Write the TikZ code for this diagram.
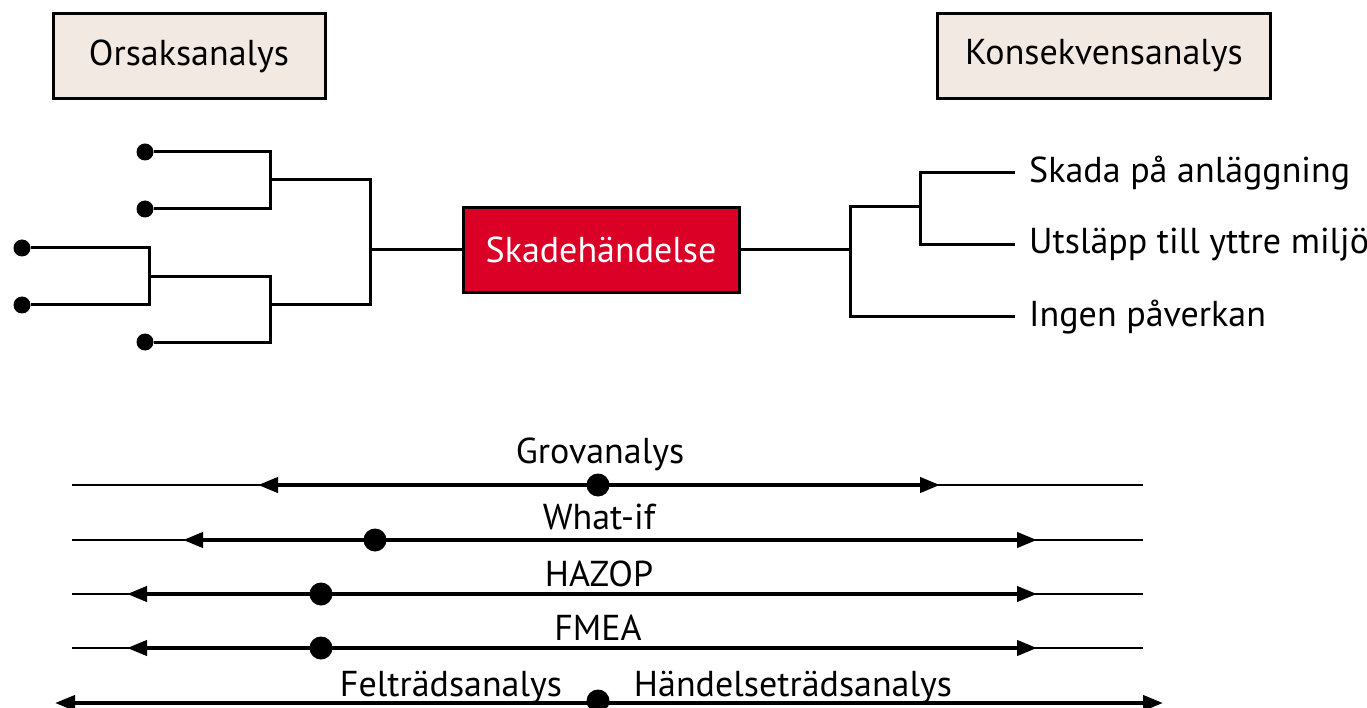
\documentclass[tikz,border=0pt]{standalone}
\usepackage{fontspec}
\setmainfont{PT Sans}
\usetikzlibrary{arrows.meta,positioning}
\definecolor{boxbeige}{HTML}{F2E9E3}
\definecolor{eventred}{HTML}{DA0026}

\begin{document}
\begin{tikzpicture}[
    x=1pt, y=-1pt,
    every node/.style={font=\fontsize{36}{42}\selectfont},
    headbox/.style={draw, line width=3pt, fill=boxbeige, minimum height=85pt, inner sep=0pt},
    eventbox/.style={draw, line width=3pt, fill=eventred, text=white, minimum width=276pt, minimum height=85pt},
    branch/.style={line width=3pt},
    cause/.style={circle, fill=black, inner sep=0pt, minimum size=17pt},
    leaf/.style={anchor=west, inner xsep=14pt, inner ysep=0pt},
    scaleline/.style={line width=1.5pt},
    span/.style={line width=4pt, {Triangle[length=20pt,width=15pt]}-{Triangle[length=20pt,width=15pt]}},
    marker/.style={circle, fill=black, inner sep=0pt, minimum size=23pt},
    method/.style={anchor=base}
]
\useasboundingbox (0,0) rectangle (1367,708);

% headings
\node[headbox, minimum width=272pt] (cause) at (189,56) {Orsaksanalys};
\node[headbox, minimum width=333pt] (conseq) at (1104,56) {Konsekvensanalys};

% the event
\node[eventbox] (event) at (601,250) {Skadehändelse};

% fault side
\node[cause] (c1) at (145,152) {};
\node[cause] (c2) at (145,209) {};
\node[cause] (c3) at (22,248) {};
\node[cause] (c4) at (22,305) {};
\node[cause] (c5) at (145,342) {};
\coordinate (j1) at (270,180);
\coordinate (j2) at (149,277);
\coordinate (j3) at (270,305);
\coordinate (j4) at (370,305);
\draw[branch] (c1) -| (j1) |- (c2);
\draw[branch] (c3) -| (j2) |- (c4);
\draw[branch] (j2) -| (j3) |- (c5);
\draw[branch] (j1) -| (j4) -- (j3);
\draw[branch] (event.west) -- (event.west -| j4);

% consequence side
\node[leaf] (l1) at (1015,173) {Skada på anläggning};
\node[leaf] (l2) at (1015,245) {Utsläpp till yttre miljö};
\node[leaf] (l3) at (1015,317) {Ingen påverkan};
\coordinate (k1) at (850,207);
\coordinate (k2) at (920,207);
\draw[branch] (event.east) -- (event.east -| k1);
\draw[branch] (l3.west) -| (k1) -- (k2);
\draw[branch] (l1.west) -| (k2) |- (l2.west);

% methods
\coordinate (g0) at (72,485);   \coordinate (g1) at (1143,485);
\coordinate (g2) at (258,485);  \coordinate (g3) at (940,485);
\draw[scaleline] (g0) -- (g1);
\draw[span] (g2) -- (g3);
\node[marker] (gm) at (598,485) {};
\node[method] (grov) at (600,463) {Grovanalys};

\coordinate (w0) at (72,540);   \coordinate (w1) at (1143,540);
\coordinate (w2) at (183,540);  \coordinate (w3) at (1037,540);
\draw[scaleline] (w0) -- (w1);
\draw[span] (w2) -- (w3);
\node[marker] (wm) at (375,540) {};
\node[method] (what) at (599,529) {What-if};

\coordinate (h0) at (72,594);   \coordinate (h1) at (1143,594);
\coordinate (h2) at (127,594);  \coordinate (h3) at (1037,594);
\draw[scaleline] (h0) -- (h1);
\draw[span] (h2) -- (h3);
\node[marker] (hm) at (321,594) {};
\node[method] (hazop) at (599,586) {HAZOP};

\coordinate (f0) at (72,648);   \coordinate (f1) at (1143,648);
\coordinate (f2) at (127,648);  \coordinate (f3) at (1037,648);
\draw[scaleline] (f0) -- (f1);
\draw[span] (f2) -- (f3);
\node[marker] (fm) at (321,648) {};
\node[method] (fmea) at (598,640) {FMEA};

\coordinate (t2) at (55,703);   \coordinate (t3) at (1163,703);
\draw[span] (t2) -- (t3);
\node[marker] (tm) at (598,701) {};
\node[method] (fta) at (451,696) {Felträdsanalys};
\node[method] (eta) at (793,696) {Händelseträdsanalys};
\end{tikzpicture}
\end{document}
